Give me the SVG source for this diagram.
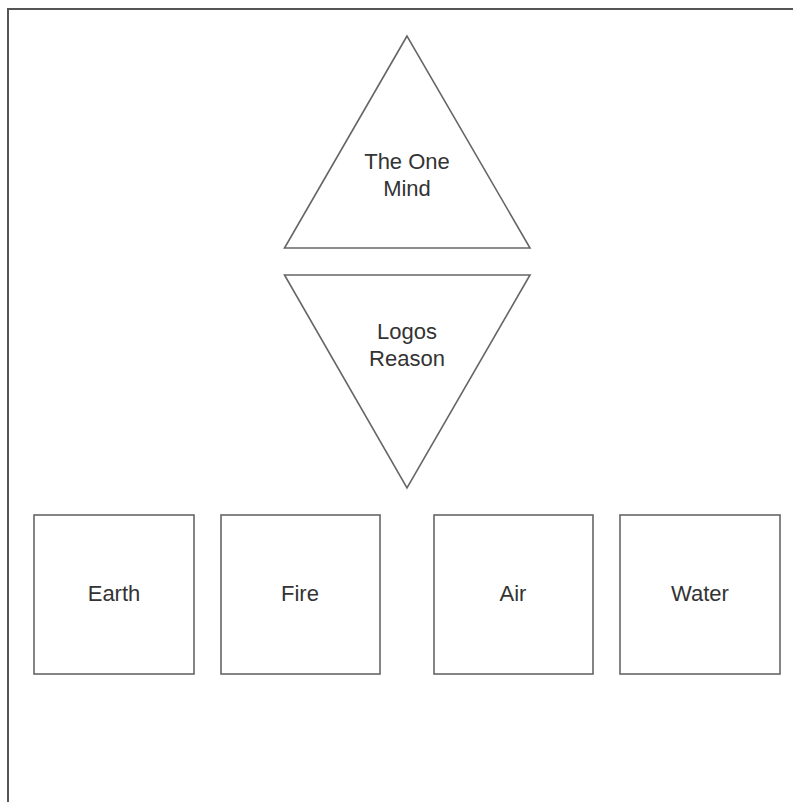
<svg xmlns="http://www.w3.org/2000/svg" width="793" height="802" viewBox="0 0 793 802">
<style>
.shape{fill:#fff;stroke:#666;stroke-width:1.6}
.lbl{font-family:"Liberation Sans",Arial,sans-serif;font-size:22px;fill:#333;text-anchor:middle}
.frame{stroke:#555;stroke-width:2;fill:none}
</style>
<rect width="793" height="802" fill="#fff"/>
<path class="frame" d="M8,802 V9 H793"/>
<g id="connectors"></g>
<g id="one-mind">
<polygon class="shape" points="407,36 284.5,248 530,248"/>
<text class="lbl" x="407" y="169">The One</text>
<text class="lbl" x="407" y="196">Mind</text>
</g>
<g id="logos">
<polygon class="shape" points="284.5,275 530,275 407,488"/>
<text class="lbl" x="407" y="339">Logos</text>
<text class="lbl" x="407" y="366">Reason</text>
</g>
<g id="earth">
<rect class="shape" x="34" y="515" width="160" height="159"/>
<text class="lbl" x="114" y="601">Earth</text>
</g>
<g id="fire">
<rect class="shape" x="221" y="515" width="159" height="159"/>
<text class="lbl" x="300" y="601">Fire</text>
</g>
<g id="air">
<rect class="shape" x="434" y="515" width="159" height="159"/>
<text class="lbl" x="513" y="601">Air</text>
</g>
<g id="water">
<rect class="shape" x="620" y="515" width="160" height="159"/>
<text class="lbl" x="700" y="601">Water</text>
</g>
</svg>
